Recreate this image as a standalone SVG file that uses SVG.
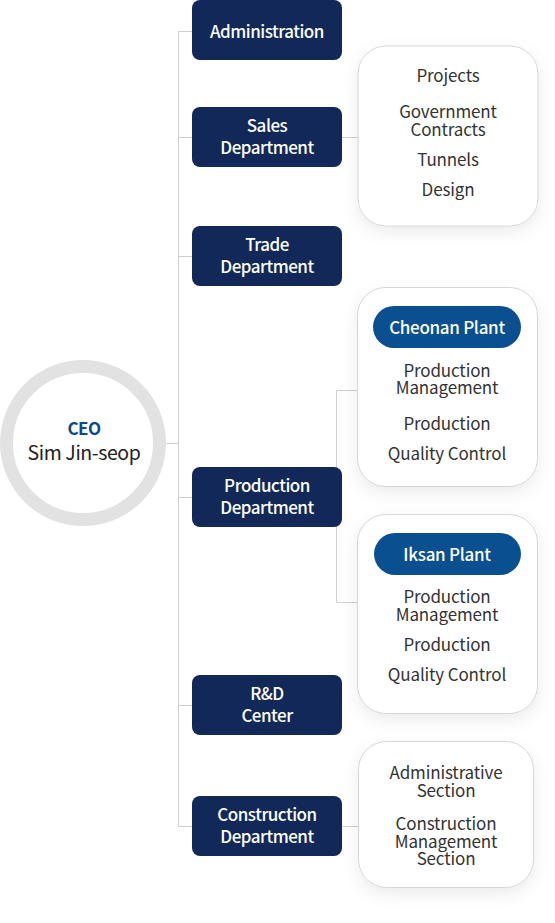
<svg xmlns="http://www.w3.org/2000/svg" width="555" height="923" viewBox="0 0 555 923">
<defs>
<filter id="sh" x="-30%" y="-30%" width="160%" height="160%">
<feDropShadow dx="0" dy="6" stdDeviation="8" flood-color="#000" flood-opacity="0.08"/>
</filter>
<style>
.dept{fill:#112859}
.dt{fill:#fff;font-family:"Noto Sans CJK KR","Noto Sans",sans-serif;font-size:17px;font-weight:500;text-anchor:middle;letter-spacing:-0.5px}
.sub{fill:#fff;stroke:#d6d6d6;stroke-width:1}
.st{fill:#333;font-family:"Noto Sans CJK KR","Noto Sans",sans-serif;font-size:17px;text-anchor:middle;letter-spacing:-0.15px}
.pill{fill:#0a4f8f}
.pt{fill:#fff;font-family:"Noto Sans CJK KR","Noto Sans",sans-serif;font-size:17px;font-weight:500;text-anchor:middle;letter-spacing:-0.3px}
.ln{stroke:#cfcfcf;stroke-width:1;fill:none}
</style>
</defs>
<rect width="555" height="923" fill="#fff"/>
<g id="connectors">
<path class="ln" d="M178.5 31V826.5M166 443.5H178.5M178.5 31.5H192M178.5 137.5H192M178.5 256.5H192M178.5 497.5H192M178.5 705.5H192M178.5 826.5H192M342 137.5H358M336.5 390.5V602.5H358M336.5 390.5H358M342 826.5H358"/>
</g>
<g id="ceo">
<circle cx="83" cy="443" r="76.5" fill="#fff" stroke="#e2e2e2" stroke-width="13"/>
<text x="84" y="435" text-anchor="middle" font-family="'Noto Sans CJK KR','Noto Sans',sans-serif" font-size="17" font-weight="bold" fill="#0a4a8a" letter-spacing="-0.5">CEO</text>
<text x="84" y="460" text-anchor="middle" font-family="'Noto Sans CJK KR','Noto Sans',sans-serif" font-size="19.5" fill="#222" letter-spacing="-0.4">Sim Jin-seop</text>
</g>
<g id="administration">
<rect class="dept" x="192" y="0" width="150" height="60" rx="8"/>
<text class="dt" x="267" y="38">Administration</text>
</g>
<g id="sales">
<rect class="dept" x="192" y="107" width="150" height="60" rx="8"/>
<text class="dt" x="267" y="132">Sales</text>
<text class="dt" x="267" y="154">Department</text>
</g>
<g id="trade">
<rect class="dept" x="192" y="226" width="150" height="60" rx="8"/>
<text class="dt" x="267" y="251">Trade</text>
<text class="dt" x="267" y="273">Department</text>
</g>
<g id="production">
<rect class="dept" x="192" y="467" width="150" height="60" rx="8"/>
<text class="dt" x="267" y="492">Production</text>
<text class="dt" x="267" y="514">Department</text>
</g>
<g id="rd">
<rect class="dept" x="192" y="675" width="150" height="60" rx="8"/>
<text class="dt" x="267" y="700">R&amp;D</text>
<text class="dt" x="267" y="722">Center</text>
</g>
<g id="construction">
<rect class="dept" x="192" y="796" width="150" height="60" rx="8"/>
<text class="dt" x="267" y="821">Construction</text>
<text class="dt" x="267" y="843">Department</text>
</g>
<g id="sales-sub">
<rect class="sub" x="358" y="46" width="180" height="180" rx="28" filter="url(#sh)"/>
<text class="st" x="448" y="82">Projects</text>
<text class="st" x="448" y="118">Government</text>
<text class="st" x="448" y="136">Contracts</text>
<text class="st" x="448" y="166">Tunnels</text>
<text class="st" x="448" y="196">Design</text>
</g>
<g id="cheonan">
<rect class="sub" x="357.5" y="287.5" width="180" height="199" rx="28" filter="url(#sh)"/>
<rect class="pill" x="373" y="306" width="148" height="42" rx="21"/>
<text class="pt" x="447" y="334">Cheonan Plant</text>
<text class="st" x="447" y="377">Production</text>
<text class="st" x="447" y="394">Management</text>
<text class="st" x="447" y="430">Production</text>
<text class="st" x="447" y="460">Quality Control</text>
</g>
<g id="iksan">
<rect class="sub" x="357.5" y="514.5" width="180" height="199" rx="28" filter="url(#sh)"/>
<rect class="pill" x="374" y="533" width="147" height="42" rx="21"/>
<text class="pt" x="447" y="561">Iksan Plant</text>
<text class="st" x="447" y="603">Production</text>
<text class="st" x="447" y="621">Management</text>
<text class="st" x="447" y="651">Production</text>
<text class="st" x="447" y="681">Quality Control</text>
</g>
<g id="construction-sub">
<rect class="sub" x="358.5" y="741.5" width="175" height="146" rx="28" filter="url(#sh)"/>
<text class="st" x="446" y="779">Administrative</text>
<text class="st" x="446" y="797">Section</text>
<text class="st" x="446" y="830">Construction</text>
<text class="st" x="446" y="848">Management</text>
<text class="st" x="446" y="865">Section</text>
</g>
</svg>
